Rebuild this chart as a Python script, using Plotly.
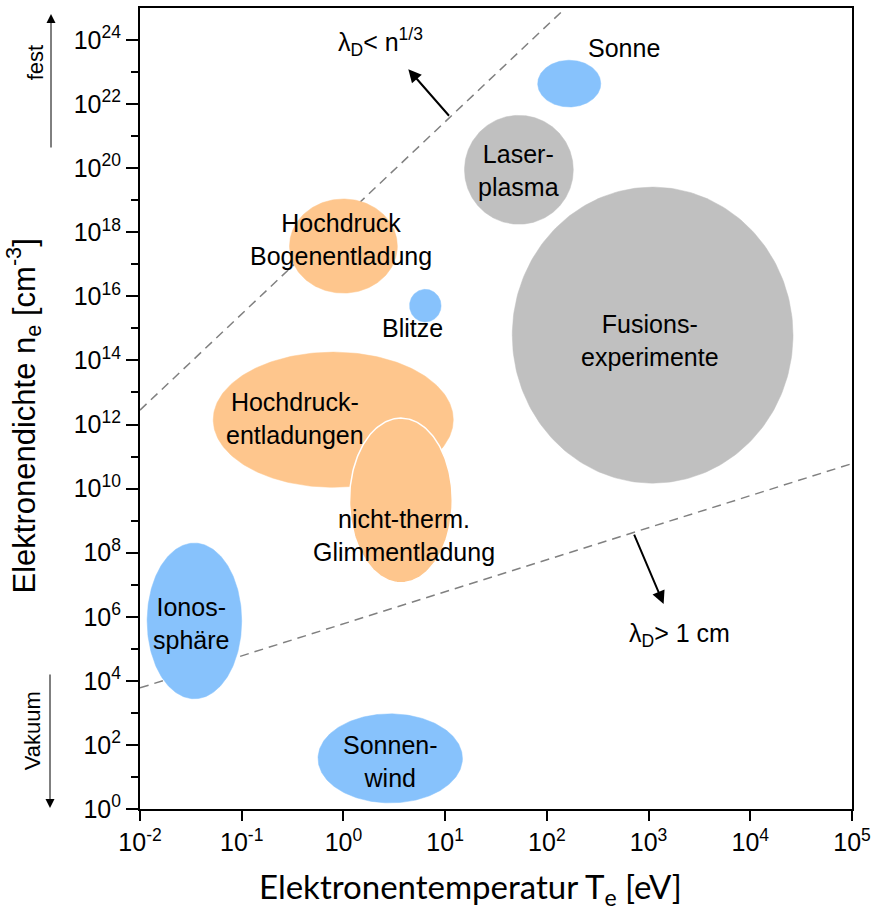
import numpy as np
import plotly.graph_objects as go

# Plasma regions: log10 ranges of electron temperature (eV) and density (cm^-3)
regions = ["Sonne", "Laserplasma", "Bogenentladung", "Blitze", "Fusion",
           "Ionosphaere", "Sonnenwind", "Hochdruckentladungen", "Glimmentladung"]
lgT_min = [1.91, 1.19, -0.53, 0.65, 1.66, -1.93, -0.25, -1.28, 0.06]
lgT_max = [2.53, 2.26, 0.53, 0.96, 4.42, -1.00, 1.17, 1.08, 1.07]
lgn_min = [21.91, 18.25, 16.10, 15.20, 10.17, 3.44, 0.19, 10.04, 7.06]
lgn_max = [23.37, 21.65, 19.04, 16.22, 19.41, 8.30, 2.97, 14.26, 12.20]
kind = ["blue", "gray", "orange", "blue", "gray", "blue", "blue", "orange", "orange"]

# Region labels (text and log10 position)
label_text = ["Sonne", "Laser-<br>plasma", "Hochdruck<br>Bogenentladung", "Blitze",
              "Fusions-<br>experimente", "Ionos-<br>sphäre", "Sonnen-<br>wind",
              "Hochdruck-<br>entladungen", "nicht-therm.<br>Glimmentladung"]
label_lgT = [2.754, 1.720, -0.022, 0.677, 3.010, -1.498, 0.461, -0.474, 0.598]
label_lgn = [23.74, 19.94, 17.78, 15.02, 14.63, 5.80, 1.47, 12.20, 8.55]

# Debye-length boundaries: log n = slope * log T + offset
bound_slope = [3.0, 1.0]
bound_offset = [18.45, 5.78]

# Axis ticks
x_exp = list(range(-2, 6))
y_exp_major = list(range(0, 25, 2))
y_exp_minor = list(range(1, 25, 2))

colors = {"blue": "#87c2fc", "gray": "#c0c0c0", "orange": "#fec68d"}
font = "Liberation Sans, Arial, sans-serif"

# plot area in pixels: left edge 140, width 712; used to place side texts
PLOT_L, PLOT_W = 140, 712


def px_to_paper_x(px):
    return (px - PLOT_L) / PLOT_W


fig = go.Figure()

# Debye-length boundary lines (drawn first, regions sit above them)
for s, b in zip(bound_slope, bound_offset):
    lx = np.linspace(-2, 5, 200)
    ly = s * lx + b
    keep = ly <= 25
    fig.add_trace(go.Scatter(
        x=10 ** lx[keep], y=10 ** ly[keep], mode="lines",
        line=dict(color="#808080", width=1.5, dash="9px,6px"),
        hoverinfo="skip", showlegend=False))

t = np.linspace(0, 2 * np.pi, 241)
for name, a0, a1, b0, b1, k in zip(regions, lgT_min, lgT_max, lgn_min, lgn_max, kind):
    cx, rx = (a0 + a1) / 2, (a1 - a0) / 2
    cy, ry = (b0 + b1) / 2, (b1 - b0) / 2
    outline = dict(color="white", width=1.5) if name == "Glimmentladung" else dict(color=colors[k], width=0.5)
    fig.add_trace(go.Scatter(
        x=10 ** (cx + rx * np.cos(t)), y=10 ** (cy + ry * np.sin(t)),
        mode="lines", fill="toself", fillcolor=colors[k], line=outline,
        name=name, hoverinfo="name", showlegend=False))

annotations = []
for txt, lx, ly in zip(label_text, label_lgT, label_lgn):
    annotations.append(dict(x=lx, y=ly, xref="x", yref="y", text=txt, showarrow=False,
                            font=dict(family=font, size=25, color="black")))

# Debye-length criteria labels and arrows
annotations += [
    dict(x=0.362, y=23.93, xref="x", yref="y", showarrow=False,
         text="λ<sub>D</sub>< n<sup>1/3</sup>", font=dict(family=font, size=25, color="black")),
    dict(x=3.305, y=5.43, xref="x", yref="y", showarrow=False,
         text="λ<sub>D</sub>> 1 cm", font=dict(family=font, size=25, color="black")),
    dict(x=0.638, y=23.09, ax=1.051, ay=21.59, xref="x", yref="y", axref="x", ayref="y",
         text="", showarrow=True, arrowhead=2, arrowsize=1.3, arrowwidth=2, arrowcolor="black"),
    dict(x=3.148, y=6.40, ax=2.852, ay=8.61, xref="x", yref="y", axref="x", ayref="y",
         text="", showarrow=True, arrowhead=2, arrowsize=1.3, arrowwidth=2, arrowcolor="black"),
]

# Side markers: solid-state density above, vacuum below
annotations += [
    dict(x=px_to_paper_x(35), y=0.931, xref="paper", yref="paper", text="fest", textangle=-90,
         xanchor="center", yanchor="middle",
         showarrow=False, font=dict(family=font, size=22, color="black")),
    dict(x=px_to_paper_x(51), y=0.9925, xref="paper", yref="paper", ax=0, ay=135, text="",
         showarrow=True, arrowhead=2, arrowsize=1.8, arrowwidth=1, arrowcolor="black"),
    dict(x=px_to_paper_x(32), y=0.097, xref="paper", yref="paper", text="Vakuum", textangle=-90,
         xanchor="center", yanchor="middle",
         showarrow=False, font=dict(family=font, size=22, color="black")),
    dict(x=px_to_paper_x(50), y=0.00125, xref="paper", yref="paper", ax=0, ay=-135, text="",
         showarrow=True, arrowhead=2, arrowsize=1.8, arrowwidth=1, arrowcolor="black"),
]

# Axis titles
annotations += [
    dict(x=px_to_paper_x(470), y=-0.099, xref="paper", yref="paper",
         xanchor="center", yanchor="middle",
         text="Elektronentemperatur T<sub>e</sub> [eV]", showarrow=False,
         font=dict(family="Lato, sans-serif", size=33, color="black")),
    dict(x=px_to_paper_x(24), y=0.49, xref="paper", yref="paper",
         xanchor="center", yanchor="middle",
         textangle=-90, text="Elektronendichte n<sub>e</sub> [cm<sup>-3</sup>]", showarrow=False,
         font=dict(family=font, size=31, color="black")),
]

fig.update_layout(
    width=873, height=913,
    margin=dict(l=140, r=21, t=8, b=104),
    plot_bgcolor="white", paper_bgcolor="white",
    annotations=annotations,
    xaxis=dict(type="log", range=[-2, 5], showgrid=False, zeroline=False,
               showline=True, linecolor="black", linewidth=2, mirror=True,
               ticks="outside", ticklen=10, tickwidth=2, tickcolor="black",
               tickvals=[10.0 ** e for e in x_exp],
               ticktext=[f"10<sup>{e}</sup>" for e in x_exp],
               tickfont=dict(family=font, size=25, color="black"), automargin=False),
    yaxis=dict(type="log", range=[0, 25], showgrid=False, zeroline=False,
               showline=True, linecolor="black", linewidth=2, mirror=True,
               ticks="outside", ticklen=12, tickwidth=2, tickcolor="black",
               tickvals=[10.0 ** e for e in y_exp_major],
               ticktext=[f"10<sup>{e}</sup>" for e in y_exp_major],
               minor=dict(tickvals=[10.0 ** e for e in y_exp_minor], ticks="outside",
                          ticklen=7, tickwidth=2, tickcolor="black"),
               tickfont=dict(family=font, size=25, color="black"), automargin=False),
)

fig.write_html("out.html")
